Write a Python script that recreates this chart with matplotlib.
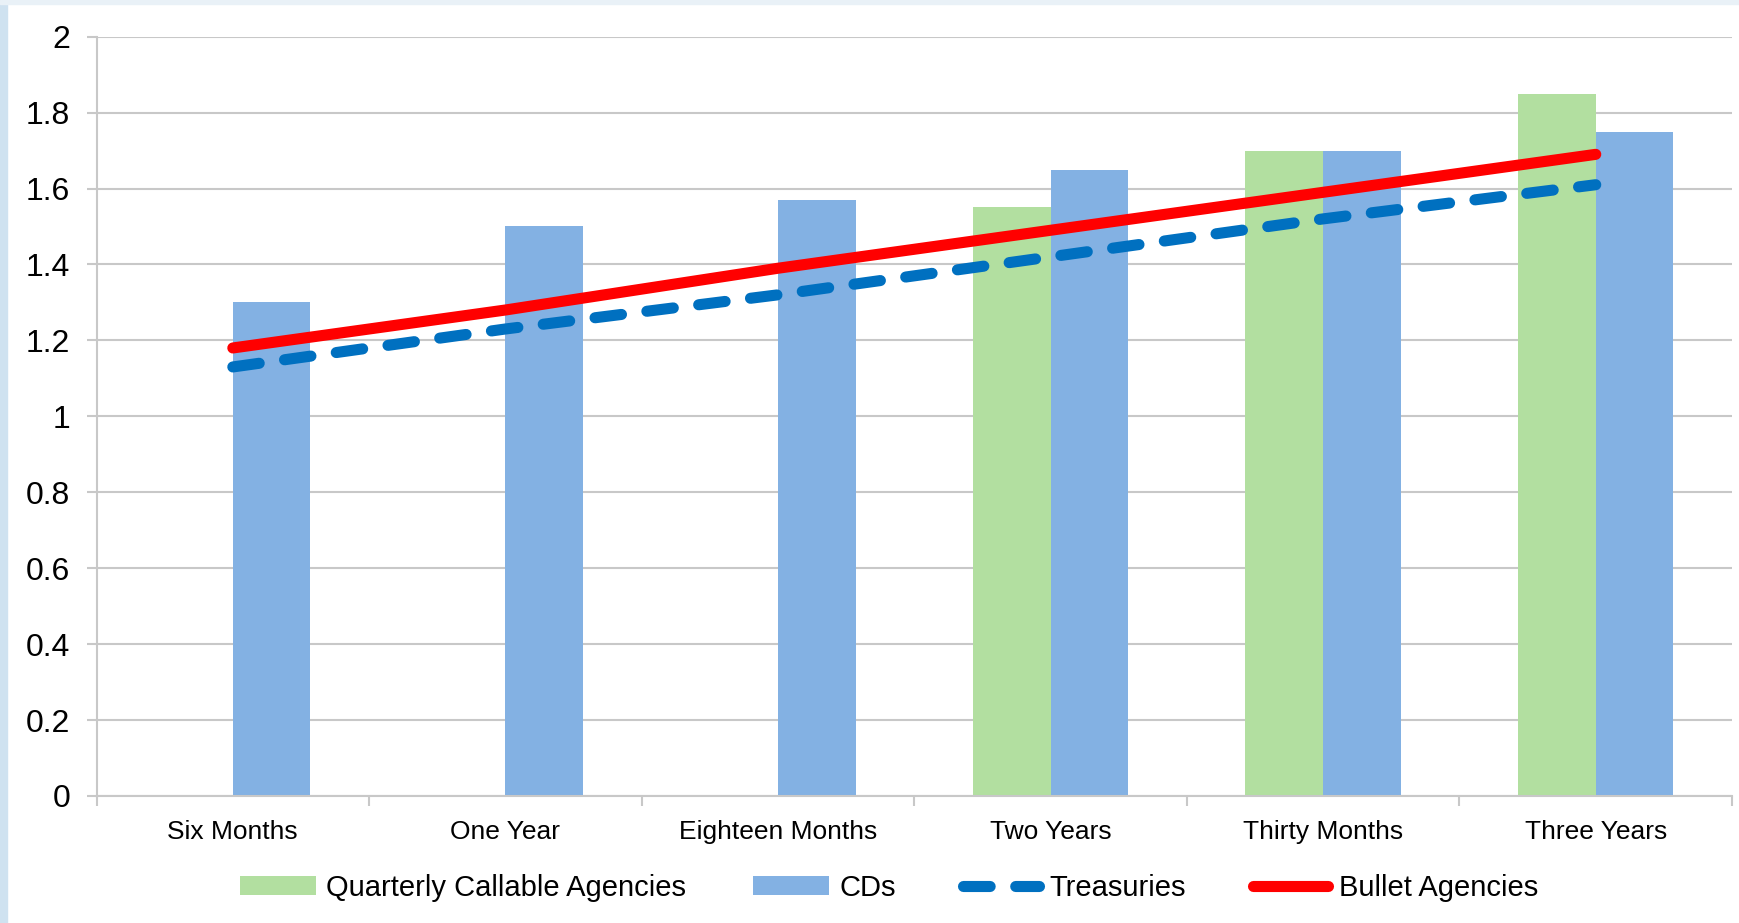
import numpy as np
import matplotlib
matplotlib.use("Agg")
import matplotlib.pyplot as plt
from matplotlib.patches import Rectangle

categories = ["Six Months", "One Year", "Eighteen Months", "Two Years", "Thirty Months", "Three Years"]
callable_agencies = [np.nan, np.nan, np.nan, 1.55, 1.70, 1.85]
cds = [1.30, 1.50, 1.57, 1.65, 1.70, 1.75]
treasuries = [1.13, 1.23, 1.32, 1.42, 1.52, 1.61]
bullet_agencies = [1.18, 1.28, 1.39, 1.49, 1.59, 1.69]

plt.rcParams['font.family'] = ['Liberation Sans', 'DejaVu Sans']

fig = plt.figure(figsize=(17.39, 9.23), dpi=100)
# light blue frame pieces on the left and top edge
fig.patches.append(Rectangle((0, 0), 7 / 1739, 1, transform=fig.transFigure,
                             color="#cfe2f0", zorder=0))
fig.patches.append(Rectangle((0, 1 - 4 / 923), 1, 4 / 923, transform=fig.transFigure,
                             color="#e9f1f7", zorder=0))

ax = fig.add_axes([0.0555, 0.1376, 0.9405, 0.8227])

x = np.arange(len(categories))
w = 0.285
b1 = ax.bar(x - w / 2, callable_agencies, w, color="#b2dfa0", label="Quarterly Callable Agencies", zorder=2)
b2 = ax.bar(x + w / 2, cds, w, color="#83b1e3", label="CDs", zorder=2)
l1, = ax.plot(x, treasuries, color="#0070c0", lw=8, ls=(0, (2.4, 2.3)),
              dash_capstyle="round", solid_capstyle="round", label="Treasuries", zorder=3)
l2, = ax.plot(x, bullet_agencies, color="#ff0000", lw=8, solid_capstyle="round",
              label="Bullet Agencies", zorder=4)

ax.set_xlim(-0.5, len(categories) - 0.5)
ax.set_ylim(0, 2)
ax.set_yticks(np.arange(0, 2.01, 0.2))
ax.set_yticklabels(["0", "0.2", "0.4", "0.6", "0.8", "1", "1.2", "1.4", "1.6", "1.8", "2"])
ax.set_xticks(x)
ax.set_xticklabels(categories)
ax.set_xticks(np.arange(-0.5, len(categories), 1), minor=True)

ax.grid(axis="y", color="#c8c8c8", lw=1.5, zorder=0)
ax.set_axisbelow(True)
for s in ["top", "right"]:
    ax.spines[s].set_visible(False)
for s in ["left", "bottom"]:
    ax.spines[s].set_color("#c8c8c8")
    ax.spines[s].set_linewidth(1.5)

ax.tick_params(axis="y", length=7, width=1.5, color="#c8c8c8", labelsize=23, pad=12)
ax.tick_params(axis="x", which="major", length=0, labelsize=19, pad=17)
ax.tick_params(axis="x", which="minor", length=7, width=1.5, color="#c8c8c8")

fig.legend([b1, b2, l1, l2], [b1.get_label(), b2.get_label(), l1.get_label(), l2.get_label()],
           loc="center", bbox_to_anchor=(889 / 1739, 35 / 923), ncol=4, frameon=False,
           prop={"size": 21}, handlelength=2.6, handletextpad=0.35, columnspacing=2.3,
           handleheight=0.6)

fig.savefig("out.png", dpi=100)
